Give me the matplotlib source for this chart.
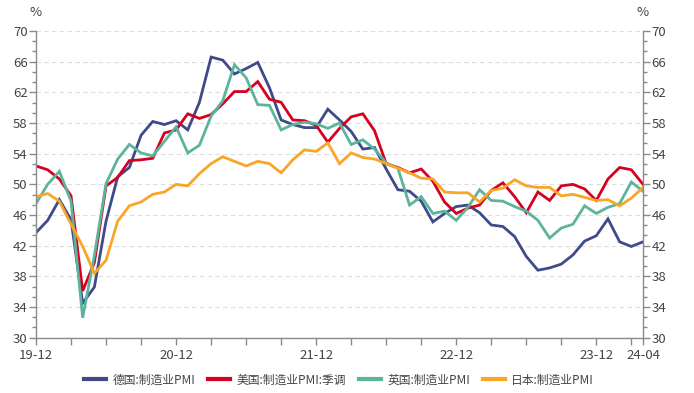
import matplotlib
matplotlib.use("Agg")
import matplotlib.pyplot as plt
from matplotlib.ticker import FixedLocator
import numpy as np

plt.rcParams['font.family'] = ['Noto Sans CJK SC', 'DejaVu Sans']

months = ["19-12"] + [f"20-{m:02d}" for m in range(1, 13)] + [f"21-{m:02d}" for m in range(1, 13)] \
    + [f"22-{m:02d}" for m in range(1, 13)] + [f"23-{m:02d}" for m in range(1, 13)] + [f"24-{m:02d}" for m in range(1, 5)]

germany = [43.7, 45.3, 48.0, 45.4, 34.5, 36.6, 45.2, 51.0, 52.2, 56.4, 58.2, 57.8, 58.3,
           57.1, 60.7, 66.6, 66.2, 64.4, 65.1, 65.9, 62.6, 58.4, 57.8, 57.4, 57.4,
           59.8, 58.4, 56.9, 54.6, 54.8, 52.0, 49.3, 49.1, 47.8, 45.1, 46.2, 47.1,
           47.3, 46.3, 44.7, 44.5, 43.2, 40.6, 38.8, 39.1, 39.6, 40.8, 42.6, 43.3,
           45.5, 42.5, 41.9, 42.5]
usa = [52.4, 51.9, 50.7, 48.5, 36.1, 39.8, 49.8, 50.9, 53.1, 53.2, 53.4, 56.7, 57.1,
       59.2, 58.6, 59.1, 60.5, 62.1, 62.1, 63.4, 61.1, 60.7, 58.4, 58.3, 57.7,
       55.5, 57.3, 58.8, 59.2, 57.0, 52.7, 52.2, 51.5, 52.0, 50.4, 47.7, 46.2,
       46.9, 47.3, 49.2, 50.2, 48.4, 46.3, 49.0, 47.9, 49.8, 50.0, 49.4, 47.9,
       50.7, 52.2, 51.9, 50.0]
uk = [47.5, 50.0, 51.7, 47.8, 32.6, 40.7, 50.1, 53.3, 55.2, 54.1, 53.7, 55.6, 57.5,
      54.1, 55.1, 58.9, 60.9, 65.6, 63.9, 60.4, 60.3, 57.1, 57.8, 58.1, 57.9,
      57.3, 58.0, 55.2, 55.8, 54.6, 52.8, 52.1, 47.3, 48.4, 46.2, 46.5, 45.3,
      47.0, 49.3, 47.9, 47.8, 47.1, 46.5, 45.3, 43.0, 44.3, 44.8, 47.2, 46.2,
      47.0, 47.5, 50.3, 49.1]
japan = [48.4, 48.8, 47.8, 44.8, 41.9, 38.4, 40.1, 45.2, 47.2, 47.7, 48.7, 49.0, 50.0,
         49.8, 51.4, 52.7, 53.6, 53.0, 52.4, 53.0, 52.7, 51.5, 53.2, 54.5, 54.3,
         55.4, 52.7, 54.1, 53.5, 53.3, 52.7, 52.1, 51.5, 50.8, 50.7, 49.0, 48.9,
         48.9, 47.7, 49.2, 49.5, 50.6, 49.8, 49.6, 49.6, 48.5, 48.7, 48.3, 47.9,
         48.0, 47.2, 48.2, 49.6]

series_names = ["德国:制造业PMI", "美国:制造业PMI:季调", "英国:制造业PMI", "日本:制造业PMI"]
series_vals = [germany, usa, uk, japan]
colors = ["#3E4A89", "#D7001E", "#5BB49B", "#F9A526"]

tick_labels = ["19-12", "20-12", "21-12", "22-12", "23-12", "24-04"]

fig = plt.figure(figsize=(6.94, 3.93), dpi=100)
ax = fig.add_axes([36/694, 1-337.7/393, (643-36)/694, (337.7-31)/393])

x = np.arange(len(months))
for name, vals, c in zip(series_names, series_vals, colors):
    ax.plot(x, vals, color=c, lw=2.0, label=name, solid_joinstyle='miter')

ax.set_xlim(0, len(months)-1)
ax.set_ylim(30, 70)
axis_col = "#8a8a8a"
text_col = "#444444"

ax.yaxis.set_major_locator(FixedLocator(np.arange(30, 71, 4)))
minor_y = [30 + i*4/3 for i in range(31) if i % 3 != 0]
ax.yaxis.set_minor_locator(FixedLocator(minor_y))
ax.grid(axis='y', which='major', color='#dddddd', ls=(0, (4, 3)), lw=0.8)
ax.set_axisbelow(True)

major_x = [months.index(t) for t in tick_labels]
all_ticks = sorted(set(list(range(0, len(months), 3)) + [len(months)-1]))
ax.xaxis.set_major_locator(FixedLocator(major_x))
ax.set_xticklabels(tick_labels)
ax.xaxis.set_minor_locator(FixedLocator([t for t in all_ticks if t not in major_x]))

ax.spines['top'].set_visible(False)
for s in ['left', 'right', 'bottom']:
    ax.spines[s].set_color(axis_col)
    ax.spines[s].set_linewidth(1.0)

ax.tick_params(axis='both', which='major', length=5, color=axis_col, labelcolor=text_col, labelsize=9.5, width=1.0)
ax.tick_params(axis='y', which='minor', length=3, color=axis_col, width=1.0)
ax.tick_params(axis='x', which='minor', length=5, color=axis_col, width=1.0)
ax.tick_params(axis='y', which='both', left=True, right=True, labelleft=True, labelright=True, pad=1)
ax.tick_params(axis='x', pad=3)

fig.text(36/694, 1-13/393, "%", ha='center', va='center', fontsize=9.5, color=text_col)
fig.text(643/694, 1-13/393, "%", ha='center', va='center', fontsize=9.5, color=text_col)

leg = fig.legend(loc='center', bbox_to_anchor=(339/694, 1-380/393), ncol=4, frameon=False,
                 fontsize=8.5, handlelength=1.9, columnspacing=1.1, handletextpad=0.5)
for line in leg.get_lines():
    line.set_linewidth(3)
for t in leg.get_texts():
    t.set_color(text_col)

fig.savefig("out.png", dpi=100)
